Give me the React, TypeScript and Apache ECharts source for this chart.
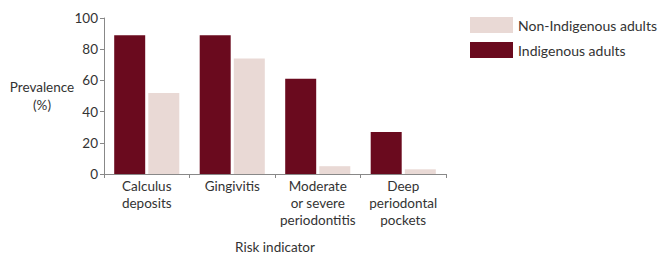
import React, { useEffect, useRef } from "react";
import * as echarts from "echarts";

const categories = ["Calculus\ndeposits", "Gingivitis", "Moderate\nor severe\nperiodontitis", "Deep\nperiodontal\npockets"];
const indigenous = [89, 89, 61, 27];
const nonIndigenous = [52, 74, 5, 3];
const yTicks = [0, 20, 40, 60, 80, 100];
const yAxisTitle = "Prevalence\n(%)";
const xAxisTitle = "Risk indicator";

const FONT = "Lato";
const DARK = "#6a0a1e";
const LIGHT = "#e9d9d5";

export default function App() {
  const ref = useRef<HTMLDivElement>(null);
  useEffect(() => {
    const chart = echarts.init(ref.current!, null, { renderer: "svg" });
    chart.setOption({
      animation: false,
      textStyle: { fontFamily: FONT },
      graphic: [
        {
          type: "text",
          x: 42,
          y: 96,
          style: {
            text: yAxisTitle,
            fontFamily: FONT,
            fontSize: 13.5,
            lineHeight: 18,
            fill: "#333",
            align: "center",
            verticalAlign: "middle",
          },
        },
      ],
      legend: {
        data: [
          { name: "Non-Indigenous adults" },
          { name: "Indigenous adults" },
        ],
        orient: "vertical",
        left: 470,
        top: 17,
        padding: 0,
        itemWidth: 43,
        itemHeight: 16,
        itemGap: 9,
        icon: "rect",
        textStyle: { fontFamily: FONT, fontSize: 14, color: "#333" },
      },
      grid: { left: 104, right: 216, top: 18, bottom: 79 },
      xAxis: {
        type: "category",
        data: categories,
        name: xAxisTitle,
        nameLocation: "middle",
        nameGap: 66,
        nameTextStyle: { fontFamily: FONT, fontSize: 13.5, color: "#333" },
        axisLine: { lineStyle: { color: "#888" } },
        axisTick: { show: true, length: 4, lineStyle: { color: "#888" } },
        axisLabel: { fontFamily: FONT, fontSize: 13.5, color: "#333", lineHeight: 17, margin: 3, interval: 0 },
      },
      yAxis: {
        type: "value",
        min: 0,
        max: 100,
        interval: 20,
        axisLine: { show: true, lineStyle: { color: "#888" } },
        axisTick: { show: true, length: 4, lineStyle: { color: "#888" } },
        axisLabel: { fontFamily: FONT, fontSize: 13.5, color: "#333", margin: 6, customValues: yTicks },
        splitLine: { show: false },
      },
      series: [
        {
          name: "Indigenous adults",
          type: "bar",
          data: indigenous,
          barWidth: 31,
          barGap: "10%",
          itemStyle: { color: DARK },
        },
        {
          name: "Non-Indigenous adults",
          type: "bar",
          data: nonIndigenous,
          barWidth: 31,
          barGap: "10%",
          itemStyle: { color: LIGHT },
        },
      ],
    });
    return () => chart.dispose();
  }, []);
  return <div ref={ref} style={{ width: 662, height: 259, position: "absolute", left: 0, top: 0 }} />;
}
